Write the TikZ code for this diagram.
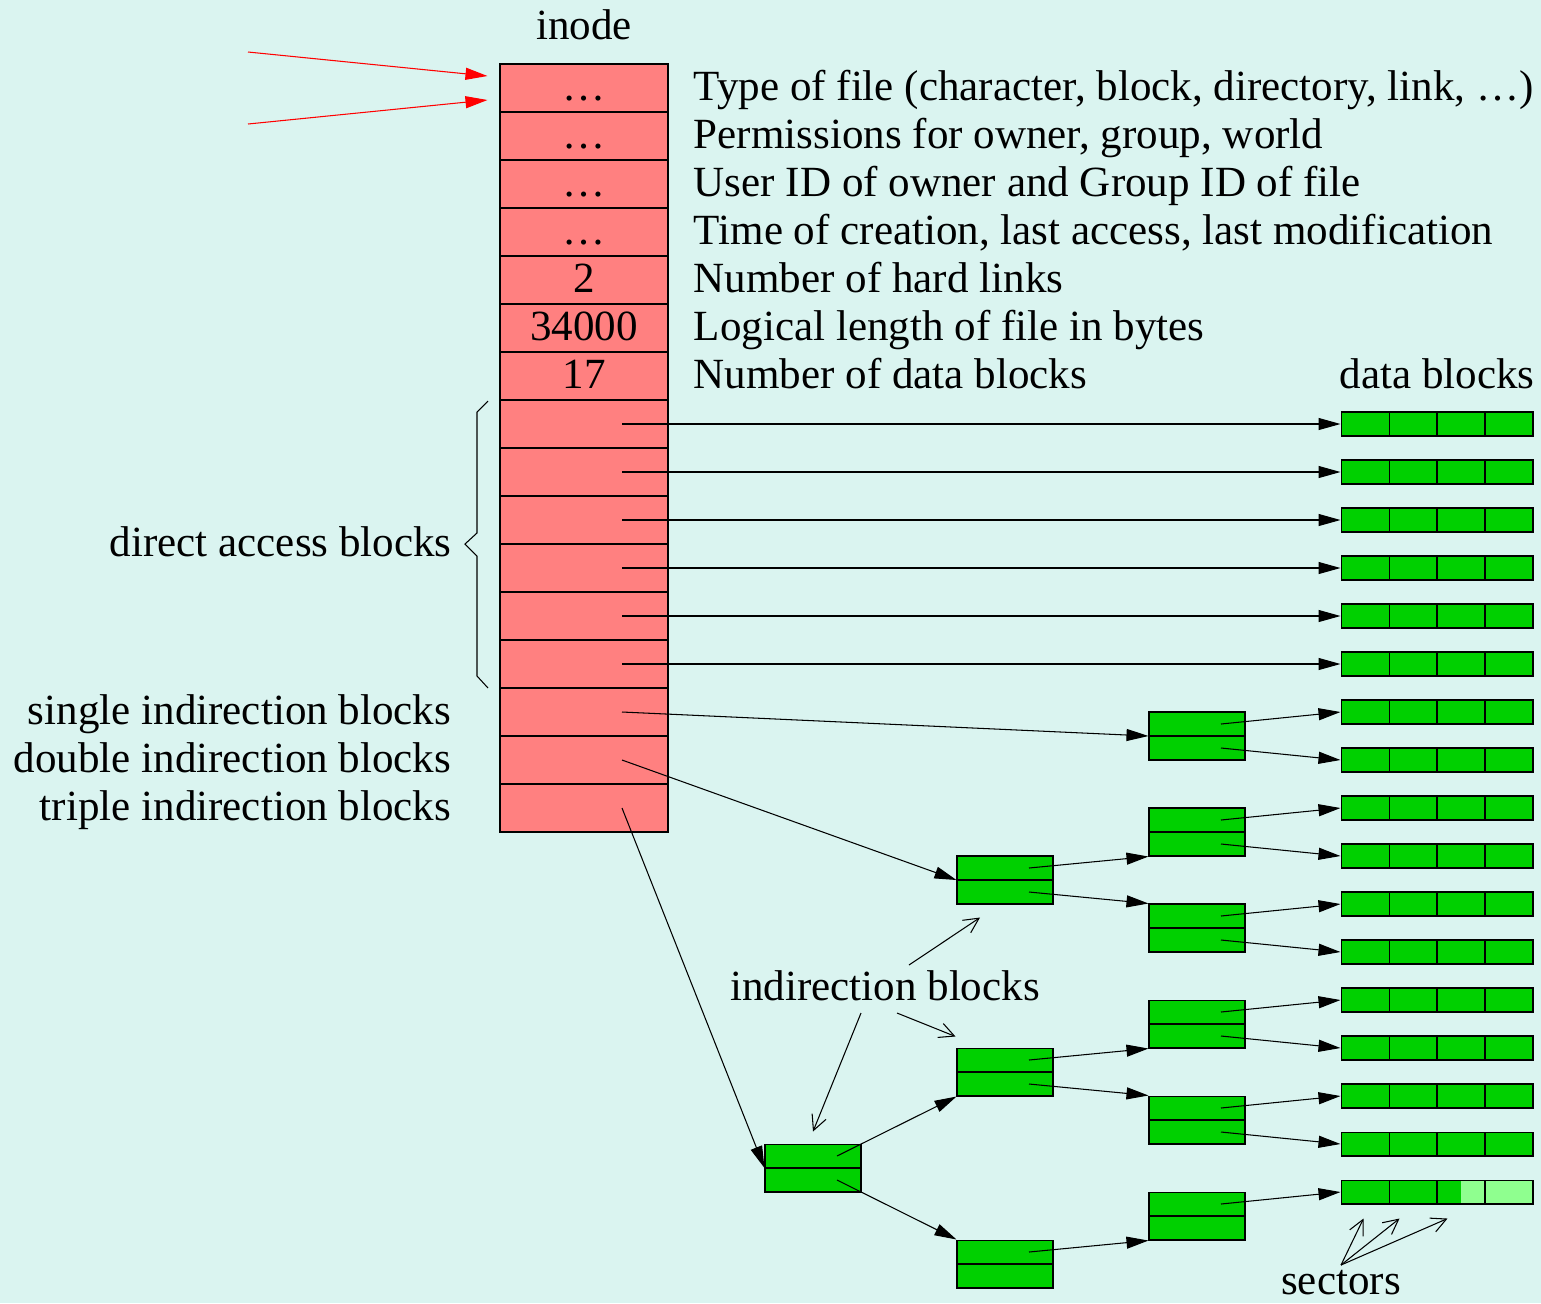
\documentclass[tikz,border=0pt]{standalone}
\usepackage{fontspec}
\setmainfont{Liberation Serif}
\usetikzlibrary{arrows.meta,calc,positioning}
\definecolor{nen}{RGB}{218,244,240}
\definecolor{hong}{RGB}{255,128,128}
\definecolor{xanh}{RGB}{0,208,0}
\definecolor{xanhnhat}{RGB}{143,255,143}
\tikzset{lbl/.style={font=\fontsize{24.5}{29}\selectfont,inner sep=0pt,text height=16.2pt,text depth=2.4pt},
	cell/.style={lbl,draw,fill=hong,line width=0.6pt,minimum width=3.36cm,minimum height=0.96cm},
	dbase/.style={draw,fill=xanh,line width=0.6pt,minimum width=3.84cm,minimum height=0.48cm,inner sep=0pt},
	dblock/.style={dbase,path picture={
			\foreach \s in {0.25,0.5,0.75}
			\draw ($(path picture bounding box.north west)!\s!(path picture bounding box.north east)$) -- ++(0,24);}},
	lastblock/.style={dbase,path picture={
			\fill[xanhnhat] ($(path picture bounding box.north west)!0.625!(path picture bounding box.north east)$) rectangle (path picture bounding box.south east);
			\foreach \s in {0.25,0.5,0.75}
			\draw ($(path picture bounding box.north west)!\s!(path picture bounding box.north east)$) -- ++(0,24);}},
	iblock/.style={draw,fill=xanh,line width=0.6pt,minimum width=1.92cm,minimum height=0.96cm,inner sep=0pt,
		path picture={\draw (path picture bounding box.west) -- (path picture bounding box.east);}},
	ptr/.style={-{Triangle[length=0.44cm,width=0.24cm]},line width=0.6pt},
	note/.style={-{Straight Barb[length=0.3cm,width=0.3cm]},line width=0.6pt}}
\begin{document}
\begin{tikzpicture}[x=0.02cm,y=-0.02cm]
	\fill[nen] (0,0) rectangle (1541,1303);
	\useasboundingbox (0,0) rectangle (1541,1303);
	
	\node[lbl] (inode) at (584,27) {inode};
	\foreach \i/\v in {1/\ldots,2/\ldots,3/\ldots,4/\ldots,5/2,6/34000,7/17}
		\node[cell] (r\i) at (584,40+48*\i) {\v};
	\foreach \i in {8,...,16}
		\node[cell] (r\i) at (584,40+48*\i) {};
	\foreach \i/\t in {1/{Type of file (character, block, directory, link, \ldots)},
		2/{Permissions for owner, group, world},3/{User ID of owner and Group ID of file},
		4/{Time of creation, last access, last modification},5/{Number of hard links},
		6/{Logical length of file in bytes},7/{Number of data blocks}}
		\node[lbl,anchor=west] (t\i) at ($(r\i.east)+(25,0)$) {\t};
	
	\draw[ptr,red] (248,52) -- ($(r1.west)+(-12,-12)$);
	\draw[ptr,red] (248,124) -- ($(r1.west)+(-12,12)$);
	
	\draw[line width=0.6pt] (488,401) -- (477,412) -- (477,533) -- (465,544) -- (477,556) -- (477,676) -- (488,688);
	\node[lbl,anchor=east] (direct) at (452,544) {direct access blocks};
	\node[lbl,anchor=east] (single) at ($(r14.west)+(-48,0)$) {single indirection blocks};
	\node[lbl,anchor=east] (double) at ($(r15.west)+(-48,0)$) {double indirection blocks};
	\node[lbl,anchor=east] (triple) at ($(r16.west)+(-48,0)$) {triple indirection blocks};
	
	\node[lbl] (data) at (1437,376) {data blocks};
	\foreach \k in {1,...,16}
		\node[dblock] (d\k) at (1437,376+48*\k) {};
	\node[lastblock] (d17) at (1437,1192) {};
	
	\path (1197,736) node[iblock] (s1) {}
		(1005,880) node[iblock] (u1) {}
		(1197,832) node[iblock] (u2) {}
		(1197,928) node[iblock] (u3) {}
		(813,1168) node[iblock] (v1) {}
		(1005,1072) node[iblock] (v2) {}
		(1005,1264) node[iblock] (v3) {}
		(1197,1024) node[iblock] (v4) {}
		(1197,1120) node[iblock] (v5) {}
		(1197,1216) node[iblock] (v6) {};
	
	\foreach \i/\k in {8/1,9/2,10/3,11/4,12/5,13/6}
		\draw[ptr] ($(r\i.center)+(38,0)$) -- (d\k.west);
	\draw[ptr] ($(r14.center)+(38,0)$) -- (s1.west);
	\draw[ptr] ($(r15.center)+(38,0)$) -- (u1.west);
	\draw[ptr] ($(r16.center)+(38,0)$) -- (v1.west);
	
	\foreach \b/\a/\c in {u1/u2/u3,v1/v2/v3,v2/v4/v5}{
		\draw[ptr] ($(\b.center)+(24,-12)$) -- (\a.south west);
		\draw[ptr] ($(\b.center)+(24,12)$) -- (\c.north west);
	}
	\draw[ptr] ($(v3.center)+(24,-12)$) -- (v6.south west);
	
	\foreach \b/\a/\c in {s1/7/8,u2/9/10,u3/11/12,v4/13/14,v5/15/16}{
		\draw[ptr] ($(\b.center)+(24,-12)$) -- (d\a.west);
		\draw[ptr] ($(\b.center)+(24,12)$) -- (d\c.west);
	}
	\draw[ptr] ($(v6.center)+(24,-12)$) -- (d17.west);
	
	\node[lbl] (ind) at (885,988) {indirection blocks};
	\draw[note] ($(ind.center)+(24,-23)$) -- ($(u1.south)+(-25,13)$);
	\draw[note] ($(ind.center)+(12,25)$) -- ($(v2.north west)+(-1,-11)$);
	\draw[note] ($(ind.center)+(-24,25)$) -- ($(v1.north)+(0,-12)$);
	
	\node[lbl] (sec) at (1341,1282) {sectors};
	\foreach \dx in {23,59,107}
		\draw[note] ($(sec.center)+(0,-17)$) -- ($(d17.south west)+(\dx,14)$);
\end{tikzpicture}
\end{document}
